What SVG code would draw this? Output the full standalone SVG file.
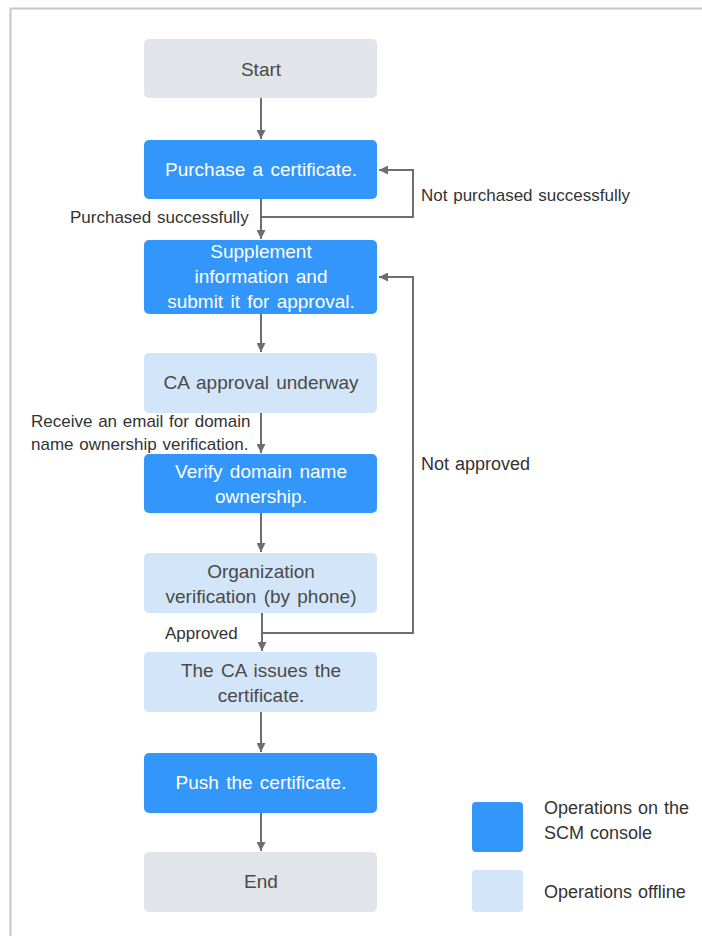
<svg xmlns="http://www.w3.org/2000/svg" width="702" height="936" viewBox="0 0 702 936">
<defs>
<style>
.frame{stroke:#c8c8c8;stroke-width:2;fill:none}
.blue{fill:#3396fa}
.light{fill:#d3e5f8}
.gray{fill:#e1e4e8}
.t{font-family:"Liberation Sans",Arial,sans-serif;font-size:19px;text-anchor:middle;word-spacing:2px}
.tw{fill:#ffffff}
.td{fill:#4a4a4a}
.lbl{font-family:"Liberation Sans",Arial,sans-serif;font-size:17px;fill:#333333;word-spacing:1px}
.big{font-size:18px}
.c{stroke:#6e6e6e;stroke-width:2;fill:none}
</style>
<marker id="ah" viewBox="0 0 10 10" refX="10" refY="5" markerWidth="4.5" markerHeight="4.5" markerUnits="strokeWidth" orient="auto">
<path d="M0,0 L10,5 L0,10 z" fill="#6e6e6e"/>
</marker>
</defs>
<rect width="702" height="936" fill="#ffffff"/>
<path class="frame" d="M10.5,936 V8.5 H702"/>

<g id="connectors">
<path class="c" d="M261,98 V139" marker-end="url(#ah)"/>
<path class="c" d="M261,199 V239" marker-end="url(#ah)"/>
<path class="c" d="M261,217 H413 V170 H379" marker-end="url(#ah)"/>
<path class="c" d="M261,314 V352" marker-end="url(#ah)"/>
<path class="c" d="M261,413 V453" marker-end="url(#ah)"/>
<path class="c" d="M261,513 V552" marker-end="url(#ah)"/>
<path class="c" d="M262,613 V651" marker-end="url(#ah)"/>
<path class="c" d="M262,633 H413 V277 H379" marker-end="url(#ah)"/>
<path class="c" d="M261,712 V752" marker-end="url(#ah)"/>
<path class="c" d="M261,813 V851" marker-end="url(#ah)"/>
</g>

<g id="start">
<rect class="gray" x="144" y="39" width="233" height="59" rx="5"/>
<text class="t td" x="261" y="76">Start</text>
</g>
<g id="purchase">
<rect class="blue" x="144" y="140" width="233" height="59" rx="5"/>
<text class="t tw" x="261" y="176">Purchase a certificate.</text>
</g>
<g id="supplement">
<rect class="blue" x="144" y="240" width="233" height="74" rx="5"/>
<text class="t tw" x="261" y="258">Supplement</text>
<text class="t tw" x="261" y="283">information and</text>
<text class="t tw" x="261" y="308">submit it for approval.</text>
</g>
<g id="ca-approval">
<rect class="light" x="144" y="353" width="233" height="60" rx="5"/>
<text class="t td" x="261" y="389">CA approval  underway</text>
</g>
<g id="verify">
<rect class="blue" x="144" y="454" width="233" height="59" rx="5"/>
<text class="t tw" x="261" y="478">Verify domain  name</text>
<text class="t tw" x="261" y="503">ownership.</text>
</g>
<g id="organization">
<rect class="light" x="144" y="553" width="233" height="60" rx="5"/>
<text class="t td" x="261" y="578">Organization</text>
<text class="t td" x="261" y="603">verification  (by phone)</text>
</g>
<g id="ca-issues">
<rect class="light" x="144" y="652" width="233" height="60" rx="5"/>
<text class="t td" x="261" y="677">The CA issues  the</text>
<text class="t td" x="261" y="702">certificate.</text>
</g>
<g id="push">
<rect class="blue" x="144" y="753" width="233" height="60" rx="5"/>
<text class="t tw" x="261" y="789">Push the certificate.</text>
</g>
<g id="end">
<rect class="gray" x="144" y="852" width="233" height="60" rx="5"/>
<text class="t td" x="261" y="888">End</text>
</g>

<g id="labels">
<text class="lbl" x="70" y="223">Purchased successfully</text>
<text class="lbl" x="421" y="201">Not purchased successfully</text>
<text class="lbl" x="31" y="427">Receive an email for domain</text>
<text class="lbl" x="31" y="450">name ownership verification.</text>
<text class="lbl big" x="421" y="470">Not approved</text>
<text class="lbl" x="165" y="639">Approved</text>
</g>

<g id="legend">
<rect class="blue" x="472" y="802" width="51" height="50" rx="4"/>
<rect class="light" x="472" y="870" width="51" height="42" rx="4"/>
<text class="lbl big" x="544" y="814">Operations on the</text>
<text class="lbl big" x="544" y="839">SCM console</text>
<text class="lbl big" x="544" y="898">Operations offline</text>
</g>
</svg>
